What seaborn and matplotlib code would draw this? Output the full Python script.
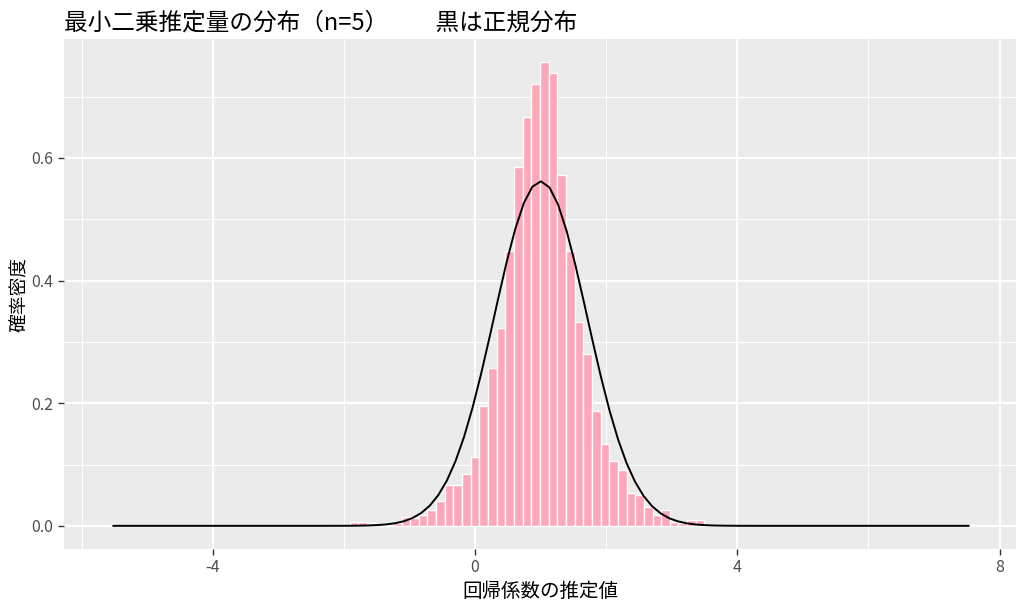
import numpy as np
import pandas as pd
import matplotlib
matplotlib.use("Agg")
import matplotlib.pyplot as plt
import seaborn as sns

# === データ: ヒストグラム（ビン番号 k, 中心 = k * bin_w）===
bin_w = 0.132
bin_k = [-42, -20, -18, -16, -15, -14, -13, -12, -11, -10, -9, -8, -7, -6, -5, -4, -3, -2, -1,
         0, 1, 2, 3, 4, 5, 6, 7, 8, 9, 10, 11, 12, 13, 14, 15, 16, 17, 18, 19,
         20, 21, 22, 23, 24, 25, 26, 27, 28, 33, 57]
density = [0.001, 0.001, 0.001, 0.001, 0.001, 0.0055, 0.007, 0.004, 0.001, 0.002, 0.004, 0.015,
           0.0125, 0.018, 0.026, 0.041, 0.066, 0.066, 0.085,
           0.113, 0.195, 0.257, 0.323, 0.449, 0.585, 0.666, 0.720, 0.756, 0.738, 0.573,
           0.449, 0.332, 0.281, 0.187, 0.133, 0.105, 0.091, 0.053, 0.050,
           0.030, 0.017, 0.025, 0.0055, 0.004, 0.010, 0.009, 0.001, 0.002, 0.001, 0.001]

# 正規分布（黒線）のパラメータ
norm_mean = 1.0
norm_sd = 0.71
curve_from, curve_to = -5.52, 7.53

x_ticks = [-4, 0, 4, 8]
y_ticks = [0.0, 0.2, 0.4, 0.6]

title = "最小二乗推定量の分布（n=5）　　黒は正規分布"
x_label = "回帰係数の推定値"
y_label = "確率密度"

# === 描画 ===
sns.set_theme(style="darkgrid")
plt.rcParams["font.family"] = ["Noto Sans CJK JP", "DejaVu Sans"]

fig = plt.figure(figsize=(10.24, 6.04), dpi=100)
ax = fig.add_axes([64 / 1024, 1 - 549 / 604, (1016 - 64) / 1024, (549 - 39) / 604])
ax.set_facecolor("#EBEBEB")

hist_df = pd.DataFrame({"center": np.array(bin_k) * bin_w, "density": density})
lo = (min(bin_k) - 0.5) * bin_w
hi = (max(bin_k) + 0.5) * bin_w
sns.histplot(data=hist_df, x="center", weights="density", binwidth=bin_w, binrange=(lo, hi),
             stat="count", color="#FDA7BB", edgecolor="white", linewidth=1.0, alpha=1.0,
             ax=ax, zorder=2)

xs = np.linspace(curve_from, curve_to, 101)
ys = np.exp(-0.5 * ((xs - norm_mean) / norm_sd) ** 2) / (norm_sd * np.sqrt(2 * np.pi))
sns.lineplot(x=xs, y=ys, color="black", linewidth=1.4, sort=False, ax=ax, zorder=3)

ax.set_xlim(-6.27, 8.25)
ax.set_ylim(-0.0378, 0.794)
ax.set_xticks(x_ticks)
ax.set_xticks([-6, -2, 2, 6], minor=True)
ax.set_yticks(y_ticks)
ax.set_yticks([0.1, 0.3, 0.5, 0.7], minor=True)
ax.set_xticklabels([str(t) for t in x_ticks])
ax.set_yticklabels([f"{t:.1f}" for t in y_ticks])

ax.grid(which="major", color="white", linewidth=1.4)
ax.grid(which="minor", color="white", linewidth=0.7)
ax.set_axisbelow(True)
for s in ax.spines.values():
    s.set_visible(False)

ax.tick_params(which="major", length=4.5, width=1.0, color="#333333",
               labelcolor="#4D4D4D", labelsize=11.5, pad=3,
               bottom=True, left=True)
ax.tick_params(which="minor", length=0)

ax.set_xlabel(x_label, fontsize=14, color="black", labelpad=3)
ax.set_ylabel(y_label, fontsize=13.5, color="black", labelpad=1)
ax.set_title(title, loc="left", fontsize=17, color="black", pad=7)

fig.savefig("out.png", dpi=100)
